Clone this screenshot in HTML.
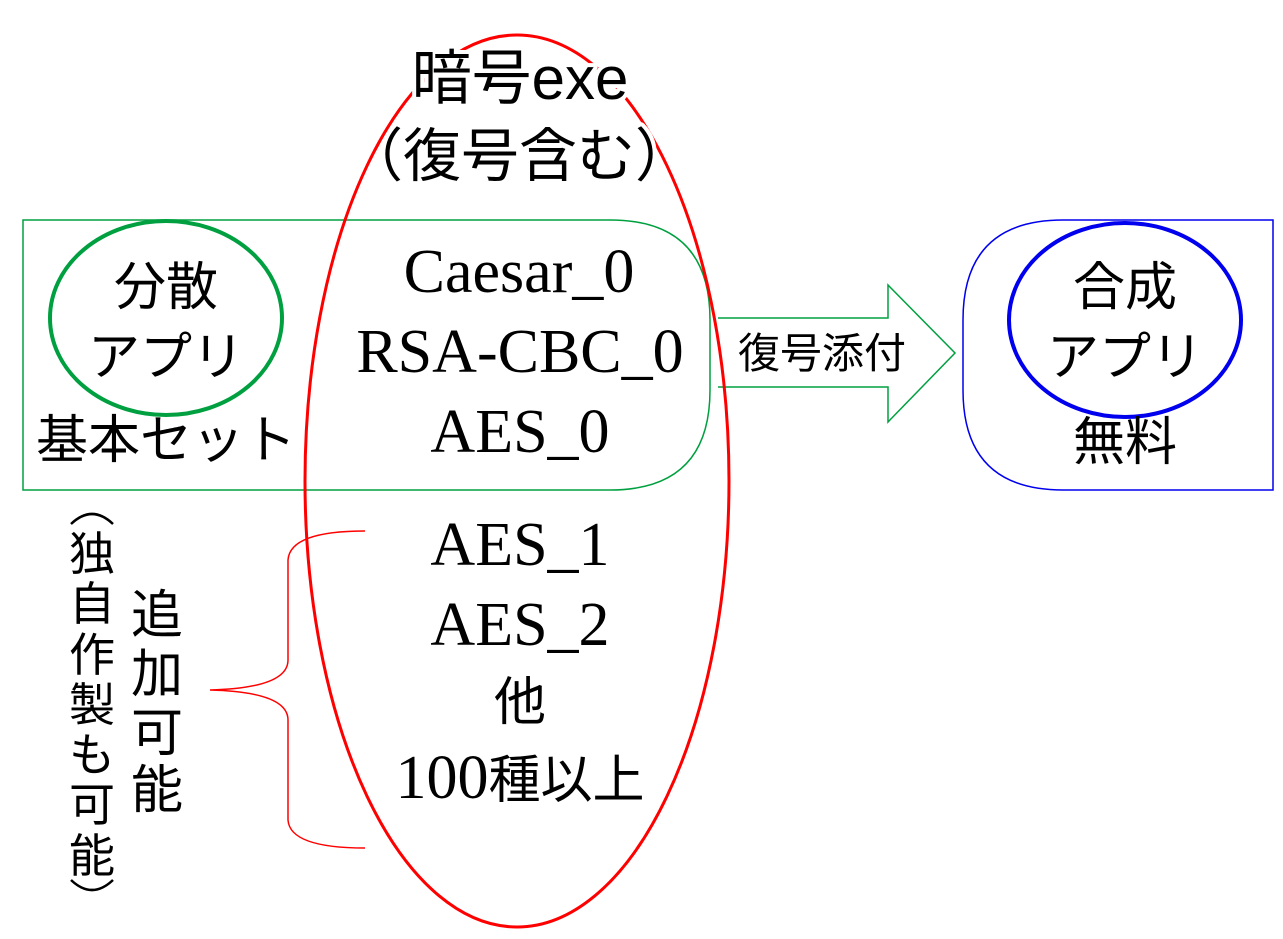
<!DOCTYPE html>
<html><head><meta charset="utf-8"><style>
html,body{margin:0;padding:0;background:#fff;}
svg{display:block;}
.s{font-family:"Liberation Sans","Noto Sans CJK JP",sans-serif;}
.t{font-family:"Liberation Serif","Noto Sans CJK JP",serif;}
</style></head><body>
<svg width="1283" height="939" viewBox="0 0 1283 939" xmlns="http://www.w3.org/2000/svg">
<path d="M23,220 H610 Q710,220 710,320 V390 Q710,490 610,490 H23 Z" fill="none" stroke="#00a040" stroke-width="1.5"/>
<path d="M1273,220 H1063 Q963,220 963,320 V390 Q963,490 1063,490 H1273 Z" fill="none" stroke="#0000ee" stroke-width="1.5"/>
<path d="M718,318 H888 V285 L955,353 L888,422 V387 H718" fill="#fff" stroke="#00a040" stroke-width="1.5"/>
<ellipse cx="166" cy="318" rx="116" ry="97" fill="none" stroke="#00a040" stroke-width="4"/>
<ellipse cx="1125" cy="320" rx="116" ry="97" fill="none" stroke="#0000ee" stroke-width="4"/>
<ellipse cx="517" cy="481" rx="212" ry="446" fill="none" stroke="#ff0000" stroke-width="3"/>
<path d="M365,531 Q290,531 288,560 V660 Q288,688 210,690 Q288,692 288,720 V820 Q290,848 365,848" fill="none" stroke="#ff0000" stroke-width="1.5"/>
<g class="s" text-anchor="middle" fill="#000" stroke="#fff" stroke-width="8" paint-order="stroke" stroke-linejoin="round">
<text x="520" y="99" font-size="60">暗号exe</text>
<text x="519" y="176" font-size="58">（復号含む）</text>
</g>
<g class="t" font-size="62" text-anchor="middle" fill="#000">
<text x="519" y="292">Caesar_0</text>
<text x="520" y="372">RSA-CBC_0</text>
<text x="520" y="452">AES_0</text>
<text x="520" y="565">AES_1</text>
<text x="520" y="645">AES_2</text>
<text x="520" y="720" class="s" font-size="52">他</text>
<text x="520" y="798"><tspan>100</tspan><tspan class="s" font-size="52">種以上</tspan></text>
</g>
<g class="s" font-size="52" text-anchor="middle" fill="#000">
<text x="166" y="305">分散</text>
<text x="166" y="375">アプリ</text>
<text x="166" y="458">基本セット</text>
<text x="1125" y="305">合成</text>
<text x="1125" y="375">アプリ</text>
<text x="1125" y="460">無料</text>
</g>
<text x="822" y="368" class="s" font-size="42" text-anchor="middle">復号添付</text>
<g class="s" font-size="52" text-anchor="middle">
<text x="157" y="633">追</text>
<text x="157" y="692">加</text>
<text x="157" y="751">可</text>
<text x="157" y="808">能</text>
</g>
<path d="M71,524 Q92,504 113,524" fill="none" stroke="#000" stroke-width="2.5"/>
<path d="M71,880 Q92,900 113,880" fill="none" stroke="#000" stroke-width="2.5"/>
<g class="s" font-size="46" text-anchor="middle">
<text x="92" y="570">独</text>
<text x="92" y="620">自</text>
<text x="92" y="671">作</text>
<text x="92" y="721">製</text>
<text x="92" y="771">も</text>
<text x="92" y="821">可</text>
<text x="92" y="872">能</text>
</g>
</svg>
</body></html>
